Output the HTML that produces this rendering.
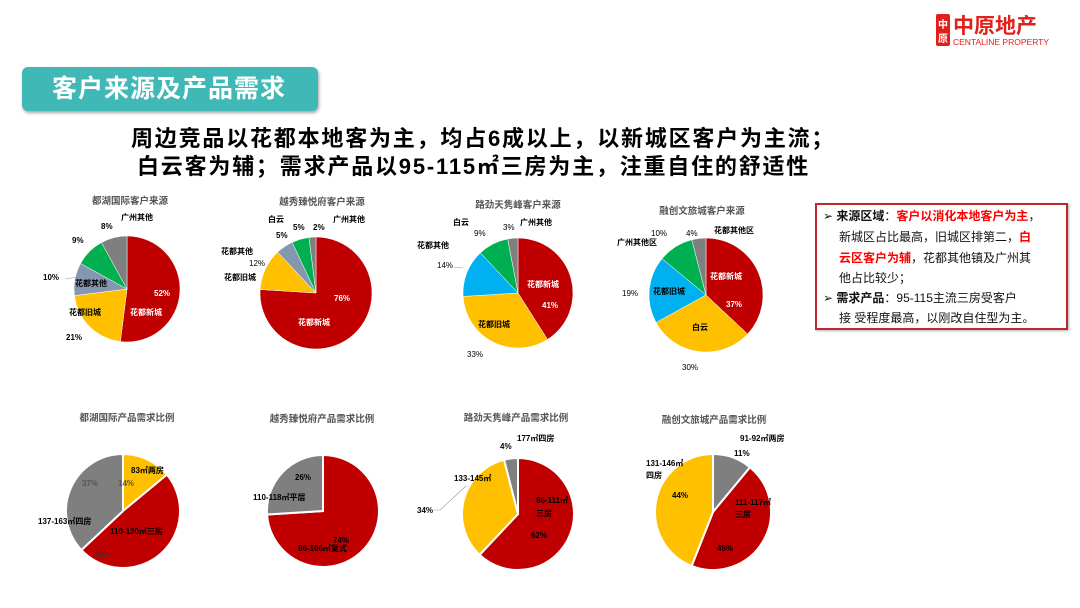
<!DOCTYPE html>
<html><head><meta charset="utf-8"><style>
body{margin:0;width:1080px;height:608px;background:#fff;overflow:hidden;font-family:"Liberation Sans","Noto Sans CJK SC",sans-serif;position:relative}
.ban{position:absolute;left:22px;top:67px;width:296px;height:44px;background:#40B8B6;border-radius:6px;box-shadow:1px 2px 3px rgba(0,0,0,.35);color:#fff;font-size:25px;font-weight:bold;line-height:44px;text-indent:30px;letter-spacing:1px}
.h{position:absolute;font-size:22px;letter-spacing:1.8px;font-weight:bold;color:#000;white-space:nowrap}
.box{position:absolute;left:815px;top:203px;width:249px;height:123px;border:2px solid #C0282D;box-shadow:1px 1px 2px rgba(0,0,0,.3);font-size:12px;line-height:20.5px;color:#111}
.box p{margin:0;position:absolute;white-space:nowrap}
.r{color:#f00;font-weight:bold}
svg text{font-family:"Liberation Sans","Noto Sans CJK SC",sans-serif;font-weight:bold}
</style></head><body>
<div class="ban">客户来源及产品需求</div>
<div class="h" style="left:131px;top:121px">周边竞品以花都本地客为主，均占6成以上，以新城区客户为主流；</div>
<div class="h" style="left:137px;top:149px">白云客为辅；需求产品以95-115㎡三房为主，注重自住的舒适性</div>
<div class="box">
<p style="left:6px;top:1px">➢ <b>来源区域</b>：<span class="r">客户以消化本地客户为主</span>，</p>
<p style="left:22px;top:22px">新城区占比最高，旧城区排第二，<span class="r">白</span></p>
<p style="left:22px;top:43px"><span class="r">云区客户为辅</span>，花都其他镇及广州其</p>
<p style="left:22px;top:63px">他占比较少；</p>
<p style="left:6px;top:83px">➢ <b>需求产品</b>：95-115主流三房受客户</p>
<p style="left:22px;top:103px">接 受程度最高，以刚改自住型为主。</p>
</div>
<svg width="1080" height="608" style="position:absolute;left:0;top:0" id="s">
<g fill="#E0201B" font-size="14"><rect x="936" y="14" width="14" height="32" rx="2"/></g>
<text x="943" y="28" fill="#fff" font-size="10" text-anchor="middle">中</text>
<text x="943" y="42" fill="#fff" font-size="10" text-anchor="middle">原</text>
<text x="953" y="33" fill="#E0201B" font-size="21">中原地产</text>
<text x="953" y="45" fill="#E0201B" font-size="8.5" style="font-weight:normal">CENTALINE PROPERTY</text>
<g font-size="9.5" fill="#555" text-anchor="middle">
<text x="130" y="204">都湖国际客户来源</text>
<text x="322" y="205">越秀臻悦府客户来源</text>
<text x="518" y="208">路劲天隽峰客户来源</text>
<text x="702" y="214">融创文旅城客户来源</text>
<text x="127" y="421">都湖国际产品需求比例</text>
<text x="322" y="422">越秀臻悦府产品需求比例</text>
<text x="516" y="421">路劲天隽峰产品需求比例</text>
<text x="714" y="423">融创文旅城产品需求比例</text>
</g>
<g id="pies"></g>
<g font-size="8" fill="#000">
<text x="121" y="220">广州其他</text><text x="101" y="229">8%</text><text x="72" y="243">9%</text>
<text x="43" y="280">10%</text><text x="75" y="286">花都其他</text><text x="69" y="315">花都旧城</text><text x="66" y="340">21%</text>
<text x="154" y="296" fill="#fff">52%</text><text x="130" y="315" fill="#fff">花都新城</text>
<text x="268" y="222">白云</text><text x="333" y="222">广州其他</text><text x="293" y="230">5%</text><text x="313" y="230">2%</text><text x="276" y="238">5%</text>
<text x="221" y="254">花都其他</text><text x="249" y="266" style="font-weight:normal">12%</text><text x="224" y="280">花都旧城</text>
<text x="334" y="301" fill="#fff">76%</text><text x="298" y="325" fill="#fff">花都新城</text>
<text x="453" y="225">白云</text><text x="474" y="236" style="font-weight:normal">9%</text><text x="503" y="230" style="font-weight:normal">3%</text><text x="520" y="225">广州其他</text>
<text x="417" y="248">花都其他</text><text x="437" y="268" style="font-weight:normal">14%</text>
<text x="527" y="287" fill="#fff">花都新城</text><text x="542" y="308" fill="#fff">41%</text>
<text x="478" y="327">花都旧城</text><text x="467" y="357" style="font-weight:normal">33%</text>
<text x="651" y="236" style="font-weight:normal">10%</text><text x="686" y="236" style="font-weight:normal">4%</text><text x="714" y="233">花都其他区</text>
<text x="617" y="245">广州其他区</text><text x="622" y="296" style="font-weight:normal">19%</text><text x="653" y="294">花都旧城</text>
<text x="710" y="279" fill="#fff">花都新城</text><text x="726" y="307" fill="#fff">37%</text>
<text x="692" y="330">白云</text><text x="682" y="370" style="font-weight:normal">30%</text>
<text x="131" y="473">83㎡两房</text><text x="118" y="486" fill="#555">14%</text><text x="82" y="486" fill="#555">37%</text>
<text x="38" y="524">137-163㎡四房</text><text x="110" y="534">110-130㎡三房</text><text x="94" y="557" fill="#333">49%</text>
<text x="295" y="480">26%</text><text x="253" y="500">110-118㎡平层</text><text x="333" y="543">74%</text><text x="298" y="551">96-106㎡复式</text>
<text x="517" y="441">177㎡四房</text><text x="500" y="449">4%</text><text x="454" y="481">133-145㎡</text><text x="417" y="513">34%</text>
<text x="536" y="503">96-111㎡</text><text x="536" y="516">三房</text><text x="531" y="538">62%</text>
<text x="740" y="441">91-92㎡两房</text><text x="734" y="456">11%</text><text x="646" y="466">131-146㎡</text><text x="646" y="478">四房</text>
<text x="672" y="498">44%</text><text x="735" y="505">111-117㎡</text><text x="735" y="517">三房</text><text x="717" y="551">45%</text>
</g>
<g stroke="#999" stroke-width=".6" fill="none"><path d="M65 279 L78 277"/><path d="M454 267 L463 268"/><path d="M433 510 L440 510 L466 486"/></g>
</svg>
<script>
var R="#C00000",Y="#FFC000",G="#7F7F7F",GR="#00B050",B="#8497B0",C="#00B0F0";
var pies=[[127,289,53,[[52,R],[21,Y],[10,B],[9,GR],[8,G]]],[316,293,56,[[76,R],[12,Y],[5,B],[5,GR],[2,G]]],
[518,293,55,[[41,R],[33,Y],[14,C],[9,GR],[3,G]]],[706,295,57,[[37,R],[30,Y],[19,C],[10,GR],[4,G]]],
[123,511,57,[[14,Y],[49,R],[37,G]]],[323,511,56,[[74,R],[26,G]]],[518,514,56,[[62,R],[34,Y],[4,G]]],[713,512,58,[[11,G],[45,R],[44,Y]]]];
var s="";pies.forEach(function(p,i){var a=0,cx=p[0],cy=p[1],r=p[2];p[3].forEach(function(q){var a2=a+q[0]/100*2*Math.PI;
var x1=cx+r*Math.sin(a),y1=cy-r*Math.cos(a),x2=cx+r*Math.sin(a2),y2=cy-r*Math.cos(a2);
s+='<path d="M'+cx+' '+cy+'L'+x1+' '+y1+'A'+r+' '+r+' 0 '+(a2-a>Math.PI?1:0)+' 1 '+x2+' '+y2+'Z" fill="'+q[1]+'" stroke="#fff" stroke-width="'+(i>3?2:0.5)+'"/>';a=a2;});});
document.getElementById("pies").innerHTML=s;
</script>
</body></html>
